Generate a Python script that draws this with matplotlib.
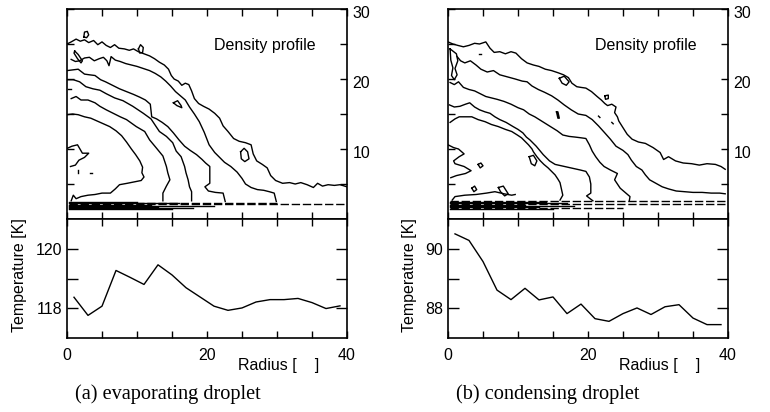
import matplotlib
matplotlib.use("Agg")
import matplotlib.pyplot as plt
from matplotlib.transforms import ScaledTranslation

plt.rcParams['font.family'] = ['Liberation Sans', 'DejaVu Sans']

# ---- temperature profiles (radius, K) ----
radius = [1, 3, 5, 7, 9, 11, 13, 15, 17, 19, 21, 23, 25, 27, 29, 31, 33, 35, 37, 39]
temp_evap = [118.37, 117.76, 118.07, 119.27, 119.04, 118.80, 119.46, 119.12, 118.69, 118.38,
             118.07, 117.93, 118.01, 118.21, 118.29, 118.29, 118.33, 118.19, 117.99, 118.08]
temp_cond = [90.50, 90.28, 89.57, 88.61, 88.29, 88.67, 88.28, 88.38, 87.82, 88.14,
             87.65, 87.56, 87.82, 88.01, 87.79, 88.05, 88.12, 87.67, 87.45, 87.45]

# ---- density contour lines, (radius, height) ----
evap_a = [(0.0, 25.0), (0.6, 25.3), (1.3, 25.7), (1.9, 25.4), (2.5, 25.6), (3.1, 25.2), (3.8, 25.5),
          (4.4, 24.9), (5.0, 25.3), (5.6, 24.8), (6.2, 24.5), (6.8, 24.9), (7.4, 24.4), (8.2, 24.3),
          (8.9, 24.1), (9.5, 24.3), (10.2, 23.9), (11.0, 23.6), (11.8, 23.3), (12.5, 22.9), (13.2, 22.4),
          (13.9, 22.0), (14.5, 21.4), (14.9, 20.5), (15.3, 20.0), (15.9, 19.7), (16.4, 19.1), (16.9, 19.4),
          (17.4, 19.2), (17.8, 18.3), (18.2, 17.2), (18.8, 16.5), (19.5, 16.1), (20.3, 15.7), (21.1, 15.1),
          (21.8, 14.4), (22.3, 13.3), (23.0, 12.5), (23.8, 11.5), (24.6, 11.1), (25.5, 10.9), (26.3, 10.6),
          (26.6, 9.3), (27.1, 8.3), (27.9, 7.8), (28.6, 7.3), (29.1, 6.2), (29.8, 5.5), (30.8, 5.1),
          (31.8, 5.2), (32.6, 5.0), (33.4, 5.2), (34.3, 4.9), (35.2, 4.5), (35.8, 5.1), (36.5, 4.7),
          (37.3, 4.9), (38.2, 4.8), (39.0, 4.9), (40.0, 4.6)]
evap_b = [(0.6, 22.8), (1.2, 22.5), (1.8, 22.6), (2.5, 23.0), (3.2, 23.1), (3.9, 22.6), (4.6, 22.9),
          (5.2, 23.1), (5.7, 22.6), (6.0, 21.9), (6.3, 23.2), (6.9, 22.7), (7.6, 22.5), (8.4, 22.2),
          (9.2, 22.0), (10.0, 21.8), (10.9, 21.5), (11.8, 21.2), (12.6, 20.8), (13.4, 20.3), (14.1, 19.7),
          (14.8, 19.0), (15.5, 18.2), (16.2, 17.6), (16.9, 17.0), (17.5, 16.0), (18.2, 15.0), (18.9, 13.9),
          (19.6, 12.4), (20.3, 10.6), (21.1, 9.5), (21.7, 8.9), (22.5, 8.1), (23.4, 7.5), (24.3, 6.7),
          (25.0, 5.8), (25.5, 5.0), (26.3, 4.5), (27.2, 4.2), (28.1, 4.1), (28.9, 3.9), (29.6, 3.7), (29.9, 2.5)]
evap_c = [(0.0, 21.2), (0.8, 21.3), (1.6, 21.4), (2.5, 20.7), (3.2, 20.6), (4.0, 20.5), (4.8, 19.9),
          (5.5, 19.6), (6.5, 19.1), (7.5, 18.6), (8.5, 18.2), (9.5, 17.8), (10.4, 17.4), (11.2, 17.0),
          (11.9, 16.4), (12.1, 14.6), (12.8, 14.3), (13.6, 13.8), (14.4, 13.2), (15.2, 12.3), (16.0, 11.3),
          (16.8, 10.4), (17.6, 9.8), (18.5, 9.2), (19.3, 8.5), (19.8, 8.0), (20.4, 7.5), (20.4, 6.2),
          (20.4, 5.1), (19.7, 4.6), (20.2, 4.0), (21.2, 3.8), (22.3, 3.7), (22.6, 2.5)]
evap_d = [(0.0, 19.9), (0.9, 19.9), (1.8, 19.6), (2.7, 18.9), (3.7, 18.6), (4.7, 18.4), (5.6, 17.9),
          (6.8, 17.3), (8.0, 16.9), (9.4, 16.1), (10.9, 15.1), (12.0, 14.3), (12.6, 13.4), (13.2, 12.5),
          (14.2, 11.8), (15.1, 10.9), (15.6, 9.7), (16.3, 8.9), (16.8, 7.5), (17.0, 6.6), (17.3, 5.6),
          (17.5, 4.6), (17.8, 3.9), (17.8, 2.6)]
evap_e = [(0.6, 17.2), (1.3, 17.5), (2.0, 17.0), (3.0, 17.0), (4.0, 16.6), (4.7, 16.1), (5.6, 15.6),
          (6.6, 15.1), (7.6, 14.6), (8.5, 14.2), (9.9, 13.2), (11.1, 12.5), (11.8, 11.3), (12.8, 10.1),
          (13.7, 9.0), (14.2, 7.5), (14.4, 6.6), (14.7, 5.6), (14.2, 4.7), (13.7, 3.7), (13.7, 2.6)]
evap_f = [(0.0, 14.9), (0.8, 15.0), (1.6, 14.9), (2.5, 14.6), (3.4, 14.4), (4.3, 14.0), (5.2, 13.6),
          (6.1, 13.2), (7.0, 12.6), (7.8, 11.9), (8.5, 11.0), (9.2, 10.0), (9.8, 9.2), (10.4, 8.3),
          (10.8, 7.4), (10.7, 6.6), (11.0, 6.0), (10.6, 5.5), (9.6, 5.3), (8.6, 5.1), (7.5, 4.9),
          (6.9, 4.3), (6.2, 3.7), (5.0, 3.7), (4.0, 3.5), (3.0, 3.4), (2.0, 3.2), (1.3, 2.9), (0.9, 3.4),
          (0.6, 2.6)]
evap_g = [(0.05, 10.1), (0.7, 10.4), (1.5, 10.6), (2.2, 9.4), (3.1, 9.4), (2.5, 8.8), (1.7, 8.4),
          (1.2, 7.7), (0.5, 7.5)]
evap_islands = [
    [(2.4, 26.0), (2.5, 26.7), (2.9, 26.8), (3.1, 26.3), (2.8, 25.9), (2.4, 26.0)],
    [(1.1, 24.0), (1.6, 23.5), (2.2, 22.6), (2.0, 22.3), (1.5, 22.9), (1.0, 23.7), (1.1, 24.0)],
    [(10.2, 24.3), (10.5, 24.9), (10.9, 24.5), (10.8, 23.8), (10.4, 23.7), (10.2, 24.3)],
    [(15.2, 16.6), (15.8, 16.9), (16.3, 16.2), (16.4, 15.9), (15.7, 16.2), (15.2, 16.6)],
    [(24.8, 9.6), (25.3, 10.1), (25.8, 9.6), (26.0, 8.6), (25.4, 8.2), (24.9, 8.6), (24.8, 9.6)],
    [(0.2, 18.6), (0.5, 18.6)],
    [(1.5, 7.0), (1.5, 6.6)],
    [(3.3, 6.6), (3.6, 6.6)],
]
evap_wall_z = [1.5, 1.62, 1.74, 1.86, 1.98, 2.1, 2.22, 2.34, 2.46]
evap_wall_end = [15, 18, 13, 21, 12, 40, 16, 30, 10]
evap_wall_dashed = [False, False, False, False, False, True, False, True, False]

cond_a = [(0.0, 25.3), (0.7, 25.0), (1.4, 24.8), (2.2, 24.6), (3.0, 24.8), (3.8, 25.1), (4.5, 25.0),
          (5.4, 25.3), (6.0, 24.4), (6.6, 23.8), (7.4, 23.9), (8.2, 23.6), (9.0, 23.9), (9.7, 23.7),
          (10.5, 22.9), (11.3, 22.3), (12.2, 22.0), (13.0, 21.8), (13.9, 21.4), (14.8, 21.2), (15.7, 20.9),
          (16.5, 20.6), (17.2, 20.2), (17.7, 19.4), (18.4, 18.9), (19.0, 18.8), (19.7, 18.7), (20.5, 18.2),
          (21.3, 17.5), (21.9, 17.0), (22.4, 16.5), (22.8, 16.2), (23.4, 16.4), (24.0, 16.0), (23.8, 15.2),
          (24.2, 14.6), (24.4, 14.0), (24.9, 13.2), (25.6, 12.1), (26.3, 11.4), (27.2, 11.0), (28.2, 10.8),
          (29.3, 10.2), (30.3, 9.5), (30.8, 8.5), (31.5, 8.9), (32.5, 8.3), (33.6, 8.0), (34.8, 7.9),
          (35.9, 7.7), (37.0, 7.9), (38.2, 7.8), (39.0, 7.5), (39.6, 7.1)]
cond_b = [(1.3, 23.2), (1.8, 22.6), (2.4, 22.3), (3.2, 22.6), (4.0, 22.0), (4.7, 21.4), (5.6, 21.0),
          (6.5, 21.2), (7.4, 20.6), (8.5, 20.3), (9.6, 20.0), (10.6, 19.7), (11.3, 19.6), (12.0, 19.0),
          (12.9, 18.5), (13.8, 18.1), (14.8, 17.6), (15.7, 17.0), (16.6, 16.3), (17.6, 15.6), (18.6, 15.0),
          (19.7, 14.8), (20.6, 14.2), (21.5, 13.3), (22.4, 12.3), (23.2, 11.4), (24.0, 10.4), (25.0, 9.8),
          (25.7, 9.2), (26.2, 8.4), (26.9, 7.5), (27.7, 7.0), (28.2, 6.3), (28.8, 5.6), (29.7, 5.1),
          (30.6, 4.6), (31.5, 4.3), (32.6, 4.0), (33.8, 3.9), (35.0, 3.8), (36.3, 3.8), (37.6, 3.7),
          (38.8, 3.7), (39.6, 3.6)]
cond_c = [(0.3, 19.5), (0.9, 19.2), (1.5, 19.6), (2.2, 18.8), (3.0, 18.5), (3.8, 18.3), (4.6, 17.9),
          (5.4, 17.5), (6.2, 17.3), (7.0, 17.1), (8.0, 16.8), (9.0, 16.4), (10.0, 15.9), (10.8, 15.6),
          (11.6, 15.0), (12.4, 14.6), (13.2, 14.1), (14.0, 13.6), (14.8, 13.1), (15.6, 12.6), (16.4, 12.0),
          (17.3, 11.8), (18.2, 11.7), (19.0, 11.6), (19.7, 11.5), (20.2, 10.6), (20.6, 9.7), (21.1, 8.9),
          (21.7, 8.1), (22.3, 7.5), (23.2, 7.0), (24.2, 6.5), (23.8, 5.6), (24.2, 5.0), (24.6, 4.4),
          (25.3, 3.8), (26.0, 3.2), (25.9, 2.6)]
cond_d = [(0.2, 16.3), (0.9, 16.0), (1.7, 16.1), (2.5, 16.4), (3.1, 16.6), (3.8, 16.0), (4.5, 15.6),
          (5.3, 15.3), (6.0, 15.1), (6.7, 14.6), (7.4, 14.2), (8.3, 13.8), (9.3, 13.2), (10.0, 12.8),
          (10.7, 12.3), (11.2, 11.7), (11.7, 11.3), (12.6, 10.4), (13.6, 9.2), (14.5, 8.3), (15.3, 7.8),
          (16.2, 7.6), (17.1, 7.4), (18.0, 7.2), (18.9, 7.0), (19.7, 6.8), (20.2, 6.0), (20.4, 5.0),
          (20.4, 3.7), (19.8, 3.3), (20.3, 2.9), (20.7, 2.6)]
cond_e = [(0.3, 13.8), (1.0, 14.3), (1.6, 14.6), (2.5, 14.6), (3.4, 14.6), (4.3, 14.2), (5.3, 13.9),
          (6.2, 13.5), (7.2, 13.2), (8.2, 12.8), (9.1, 12.5), (9.9, 12.0), (10.5, 11.6), (11.0, 11.1),
          (11.5, 10.6), (12.0, 10.0), (12.2, 9.6), (12.7, 8.9), (13.2, 8.3), (13.7, 7.8), (14.3, 7.3),
          (14.8, 6.8), (15.3, 6.3), (15.7, 5.7), (16.0, 5.2), (16.2, 4.3), (16.4, 3.4), (16.0, 2.7)]
cond_f = [(0.0, 10.6), (0.8, 10.2), (1.5, 10.0), (2.3, 9.3), (1.6, 8.9), (0.8, 8.3), (1.0, 7.9),
          (2.3, 7.5), (3.3, 6.9), (2.5, 6.5), (1.2, 6.2), (0.4, 5.9)]
cond_g = [(0.6, 2.7), (1.0, 3.2), (2.4, 3.4), (4.0, 3.5), (5.5, 3.7), (6.7, 3.9), (8.0, 3.6), (9.1, 3.4),
          (9.6, 3.5)]
cond_islands = [
    [(0.3, 24.3), (1.2, 23.6), (1.4, 22.6), (1.0, 21.5), (1.3, 20.6), (0.9, 19.9), (0.5, 20.5),
     (0.7, 21.6), (0.4, 22.7), (0.3, 24.3)],
    [(4.4, 23.6), (4.7, 23.6)],
    [(15.9, 20.1), (16.6, 20.4), (17.3, 19.6), (16.9, 19.1), (16.3, 19.4), (15.9, 20.1)],
    [(15.5, 15.3), (15.7, 15.3), (15.9, 14.4), (15.7, 14.4), (15.5, 15.3)],
    [(22.4, 17.6), (22.9, 17.7), (22.9, 17.2), (22.5, 17.1), (22.4, 17.6)],
    [(21.5, 14.7), (21.7, 14.5)],
    [(23.4, 13.8), (23.6, 13.6)],
    [(11.6, 8.9), (12.2, 9.1), (12.7, 8.3), (12.4, 7.6), (11.9, 7.9), (11.6, 8.9)],
    [(4.3, 7.8), (4.7, 8.0), (5.0, 7.6), (4.6, 7.3), (4.3, 7.8)],
    [(3.4, 4.4), (3.8, 4.7), (4.1, 4.2), (3.7, 3.9), (3.4, 4.4)],
    [(7.2, 4.5), (7.9, 4.7), (8.6, 3.6), (8.1, 3.3), (7.5, 3.9), (7.2, 4.5)],
]
cond_wall_z = [1.5, 1.62, 1.74, 1.86, 1.98, 2.1, 2.22, 2.36, 2.55]
cond_wall_end = [15, 25, 13, 18, 11, 40, 17, 14, 40]
cond_wall_dashed = [False, True, False, False, False, True, False, False, True]

panels = [
    dict(lines=[evap_a, evap_b, evap_c, evap_d, evap_e, evap_f, evap_g] + evap_islands,
         wall=(evap_wall_z, evap_wall_end, evap_wall_dashed),
         temp=temp_evap, tlim=(117, 121), tmajor=[118, 120], tminor=[119],
         caption='(a) evaporating droplet', x0=67, ylab_x=-0.17),
    dict(lines=[cond_a, cond_b, cond_c, cond_d, cond_e, cond_f, cond_g] + cond_islands,
         wall=(cond_wall_z, cond_wall_end, cond_wall_dashed),
         temp=temp_cond, tlim=(87, 91), tmajor=[88, 90], tminor=[89],
         caption='(b) condensing droplet', x0=448, ylab_x=-0.136),
]

W, H = 770, 412
fig = plt.figure(figsize=(W / 100, H / 100), dpi=100)
fs = 11.5

for p in panels:
    left = p['x0'] / W
    width = 280 / W
    ax_top = fig.add_axes([left, (H - 219) / H, width, 210 / H])
    ax_bot = fig.add_axes([left, (H - 338) / H, width, 119 / H])

    # density contours
    for pts in p['lines']:
        r, z = zip(*pts)
        ax_top.plot(r, z, color='black', lw=1.0)
    wz, wend, wdash = p['wall']
    for z, end, dashed in zip(wz, wend, wdash):
        ls = (0, (6, 2)) if dashed else '-'
        ax_top.plot([0.3, end], [z, z], color='black', lw=1.0, ls=ls)
    ax_top.set_xlim(0, 40)
    ax_top.set_ylim(0, 30)
    ax_top.set_xticks([0, 20, 40])
    ax_top.set_xticks([5, 10, 15, 25, 30, 35], minor=True)
    ax_top.set_yticks([10, 20, 30])
    ax_top.set_yticks([5, 15, 25], minor=True)
    ax_top.tick_params(which='both', direction='in', length=5, width=1.0,
                       top=True, bottom=True, left=True, right=True,
                       labelbottom=False, labelleft=False, labelright=True,
                       labelsize=fs, pad=4)
    shift = ScaledTranslation(0, -3 / 100, fig.dpi_scale_trans)
    for lab in ax_top.get_yticklabels():
        lab.set_transform(lab.get_transform() + shift)
    ax_top.text(0.708, 0.824, 'Density profile', transform=ax_top.transAxes,
                ha='center', va='center', fontsize=fs)

    # temperature
    ax_bot.plot(radius, p['temp'], color='black', lw=1.0)
    ax_bot.set_xlim(0, 40)
    ax_bot.set_ylim(*p['tlim'])
    ax_bot.set_xticks([0, 20, 40])
    ax_bot.set_xticks([5, 10, 15, 25, 30, 35], minor=True)
    ax_bot.set_yticks(p['tmajor'])
    ax_bot.set_yticks(p['tminor'], minor=True)
    ax_bot.tick_params(which='both', direction='in', length=5, width=1.0,
                       top=True, bottom=True, left=True, right=True,
                       labelsize=fs)
    ax_bot.tick_params(axis='y', which='both', length=8)
    ax_bot.tick_params(axis='x', pad=7)
    ax_bot.text(0.755, -0.235, 'Radius [    ]', transform=ax_bot.transAxes,
                ha='center', va='center', fontsize=fs)
    ax_bot.text(p['ylab_x'], 0.53, 'Temperature [K]',
                transform=ax_bot.transAxes, rotation=90,
                ha='center', va='center', fontsize=fs)

    for a in (ax_top, ax_bot):
        for s in a.spines.values():
            s.set_linewidth(1.2)

    fig.text((p['x0'] + 8) / W, 1 - 394 / H, p['caption'], ha='left', va='center',
             fontsize=14.6, family=['Liberation Serif', 'DejaVu Serif'])

fig.savefig('out.png', dpi=100)
